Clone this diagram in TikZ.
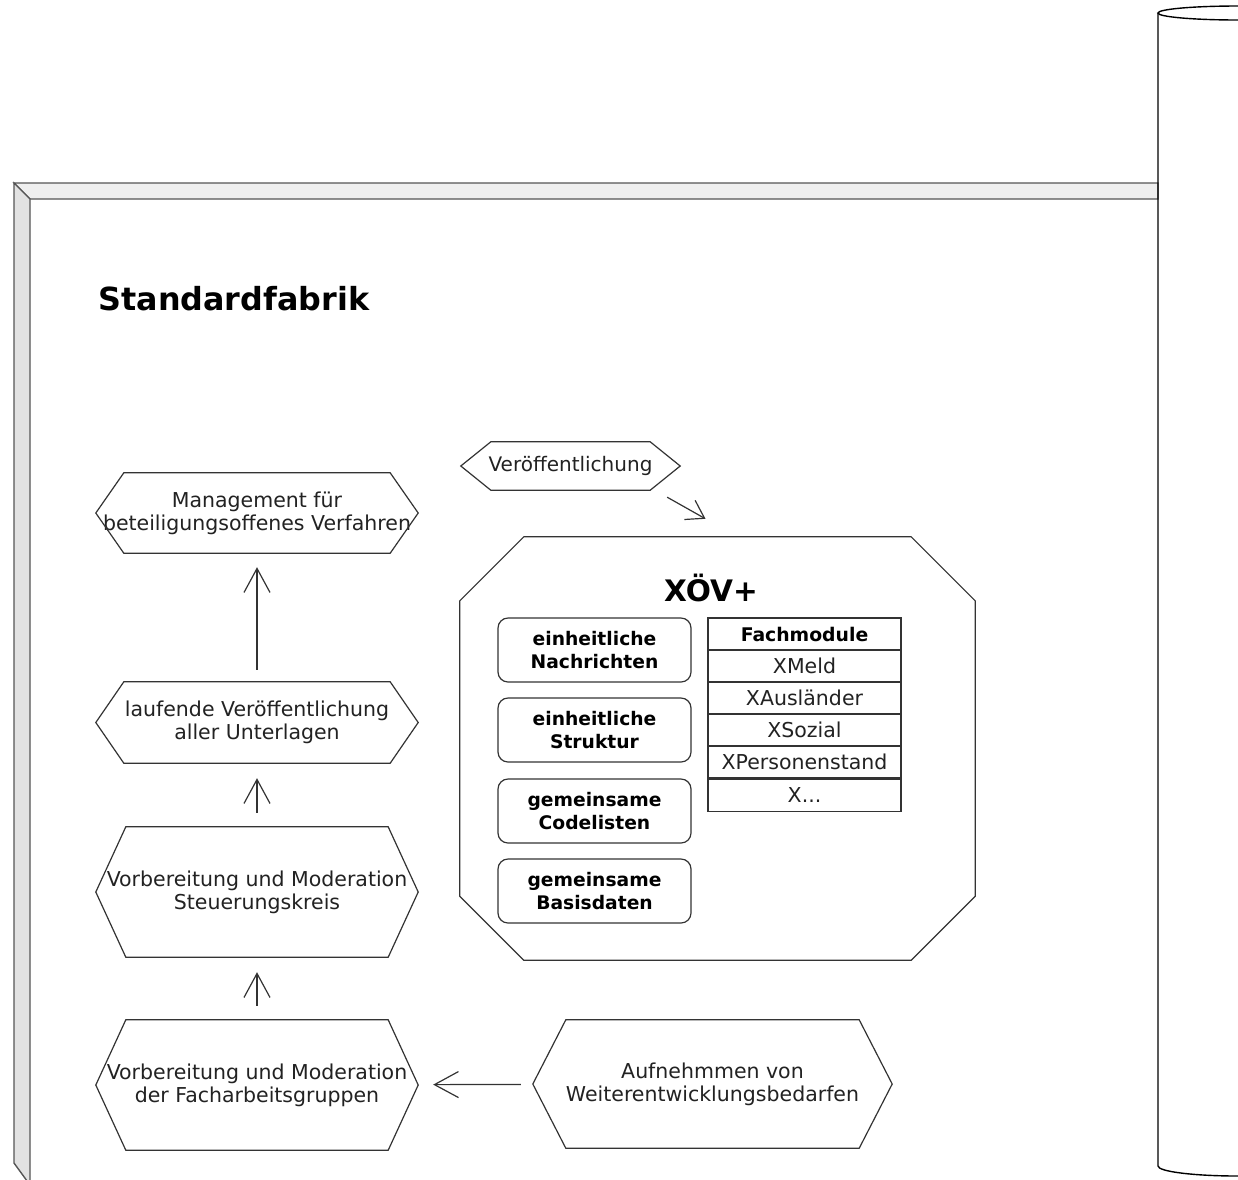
\documentclass[tikz,border=0pt]{standalone}
\usepackage{fontspec}
\setmainfont{DejaVu Sans}
\usepackage{tikz}
\usetikzlibrary{arrows.meta}
\usetikzlibrary{positioning,calc}
\definecolor{linegray}{HTML}{333333}
\definecolor{framegray}{HTML}{555555}
\definecolor{bargray}{HTML}{EFEFEF}
\definecolor{sidegray}{HTML}{E2E2E2}
\definecolor{textgray}{HTML}{222222}
\newcommand{\hexframe}[2]{\draw[linegray, line width=1.2pt] ([xshift=#2]#1.north west) -- ([xshift=-#2]#1.north east) -- (#1.east) -- ([xshift=-#2]#1.south east) -- ([xshift=#2]#1.south west) -- (#1.west) -- cycle;}

\begin{document}
\begin{tikzpicture}[x=1pt, y=-1pt,
		hexbox/.style={inner sep=0pt, minimum width=322pt, align=center, text=textgray, font=\fontsize{20.5}{23}\selectfont},
		modbox/.style={draw=linegray, line width=1.2pt, rounded corners=10pt, minimum width=193pt, minimum height=64pt, inner sep=0pt, align=center, font=\bfseries\fontsize{18.7}{23}\selectfont},
		fmcell/.style={draw=linegray, line width=1.2pt, minimum width=193pt, minimum height=32pt, inner sep=0pt, text=textgray, font=\fontsize{20.5}{22}\selectfont},
		flow/.style={-{Straight Barb[length=24pt, width=26pt, line width=1.2pt]}, linegray, line width=1.2pt}]
			\useasboundingbox (0,0) rectangle (1238,1179);
			\clip (0,0) rectangle (1238,1179);
			\fill[white] (0,0) rectangle (1238,1179);
			% frame
			\draw[framegray, line width=1.4pt, fill=bargray] (14,183) -- (1158,183) -- (1158,199) -- (30,199) -- cycle;
			\draw[framegray, line width=1.4pt, fill=sidegray] (14,183) -- (30,199) -- (30,1185) -- (14,1163) -- cycle;
			% cylinder
			\draw[black, line width=1.4pt] (1238,13) ellipse [x radius=80pt, y radius=7pt];
			\draw[black, line width=1.4pt] (1158,13) -- (1158,1166) arc[start angle=180, end angle=270, x radius=80pt, y radius=10pt];
			\node[anchor=base west, font=\bfseries\fontsize{31.8}{38}\selectfont] (title) at (95,310) {Standardfabrik};

			\node[hexbox, minimum height=80pt] (mgmt) at (257,513) {Management für\\beteiligungsoffenes Verfahren};
			\node[hexbox, minimum height=81pt] (lauf) at (257,722.5) {laufende Veröffentlichung\\aller Unterlagen};
			\node[hexbox, minimum height=130pt] (steu) at (257,892) {Vorbereitung und Moderation\\Steuerungskreis};
			\node[hexbox, minimum height=130pt] (fach) at (257,1085) {Vorbereitung und Moderation\\der Facharbeitsgruppen};
			\node[hexbox, minimum width=359pt, minimum height=128pt] (aufn) at (712.5,1084) {Aufnehmmen von\\Weiterentwicklungsbedarfen};
			\node[hexbox, minimum width=219pt, minimum height=48pt, font=\fontsize{20}{23}\selectfont] (veroeff) at (570.5,466) {Veröffentlichung};
			\hexframe{mgmt}{28pt}
			\hexframe{lauf}{28pt}
			\hexframe{steu}{30pt}
			\hexframe{fach}{30pt}
			\hexframe{aufn}{33pt}
			\hexframe{veroeff}{30pt}

			\draw[flow, shorten <=12pt, shorten >=14pt] (lauf) -- (mgmt);
			\draw[flow, shorten <=14pt, shorten >=15pt] (steu) -- (lauf);
			\draw[flow, shorten <=14pt, shorten >=15pt] (fach) -- (steu);
			\draw[flow, shorten <=12pt, shorten >=15pt] (aufn) -- (fach);

			% XOEV+ block
			\node[inner sep=0pt, minimum width=515pt, minimum height=423pt] (xoev) at (717.5,748.5) {};
			\draw[linegray, line width=1.2pt] ([xshift=64pt]xoev.north west) -- ([xshift=-64pt]xoev.north east) -- ([yshift=-64pt]xoev.north east) -- ([yshift=64pt]xoev.south east) -- ([xshift=-64pt]xoev.south east) -- ([xshift=64pt]xoev.south west) -- ([yshift=64pt]xoev.south west) -- ([yshift=-64pt]xoev.north west) -- cycle;
			\draw[-{Straight Barb[length=17pt, width=22pt, line width=1.2pt]}, linegray, line width=1.2pt] ([xshift=-13pt, yshift=-7pt]veroeff.south east) -- ([xshift=-12pt, yshift=18pt]xoev.north);
			\node[font=\bfseries\fontsize{29.6}{34}\selectfont] (xoevtitle) at (711,588) {XÖV+};

			\foreach \y/\txt [count=\i] in {650/{einheitliche\\Nachrichten}, 730/{einheitliche\\Struktur}, 811/{gemeinsame\\Codelisten}, 891/{gemeinsame\\Basisdaten}}
				\node[modbox] (mod\i) at (594.5,\y) {\txt};

			\node[fmcell, text=black, font=\bfseries\fontsize{18.8}{22}\selectfont] (fm0) at (804.5,634) {Fachmodule};
			\foreach \lbl [count=\i] in {XMeld, XAusländer, XSozial, XPersonenstand}
				\node[fmcell] (fm\i) at (804.5,{634+32*\i}) {\lbl};
			\node[fmcell, below=0pt of fm4] (fm5) {X...};
		\end{tikzpicture}
\end{document}
